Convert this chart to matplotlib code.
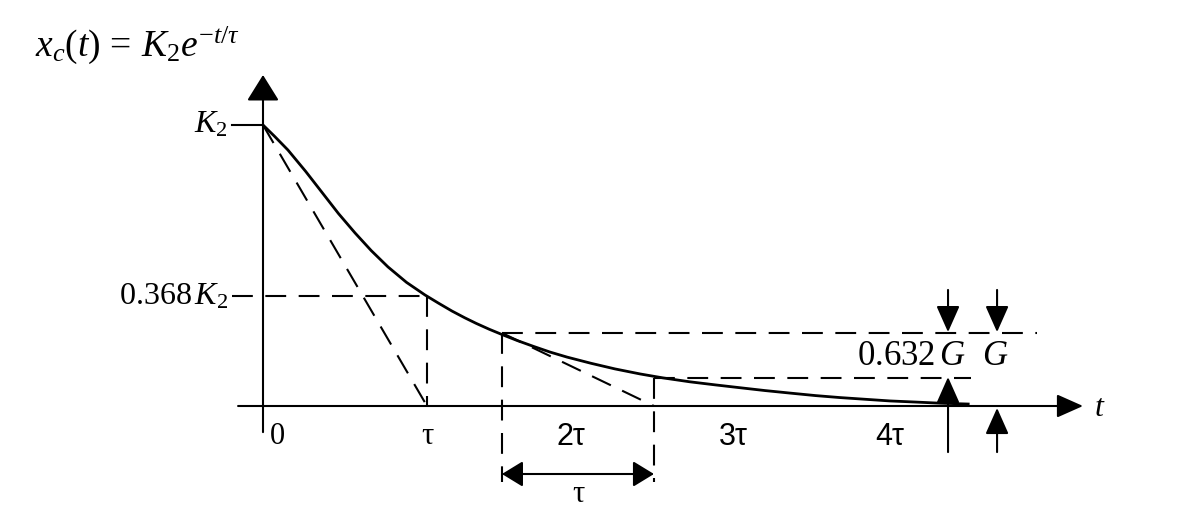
import matplotlib
matplotlib.use("Agg")
import matplotlib.pyplot as plt

plt.rcParams['font.family'] = ['Liberation Serif', 'DejaVu Serif']
plt.rcParams['mathtext.fontset'] = 'custom'
plt.rcParams['mathtext.rm'] = 'Liberation Serif'
plt.rcParams['mathtext.it'] = 'Liberation Serif:italic'

# curve (t in units of tau, x_c in units of K2)
curve_t = [0.0, 0.07, 0.152, 0.26, 0.36, 0.46, 0.561, 0.66, 0.762, 0.875, 0.988,
           1.07, 1.152, 1.23, 1.30, 1.38, 1.463, 1.55, 1.65, 1.75, 1.854, 2.0, 2.146,
           2.3, 2.439, 2.604, 2.76, 2.909, 3.06, 3.213, 3.37, 3.518, 3.67, 3.823,
           3.98, 4.128, 4.3]
curve_x = [1.0, 0.96, 0.911, 0.835, 0.76, 0.685, 0.616, 0.553, 0.495, 0.44, 0.395,
           0.366, 0.338, 0.314, 0.294, 0.273, 0.253, 0.233, 0.212, 0.192, 0.174, 0.152, 0.132,
           0.114, 0.100, 0.086, 0.075, 0.065, 0.055, 0.046, 0.037, 0.030, 0.024, 0.018,
           0.014, 0.010, 0.007]

tick_pos = [0.04, 1.0, 1.88, 2.87, 3.82]
tick_labels = ['0', 'τ', '2τ', '3τ', '4τ']

level_k2 = 1.0
level_368 = 0.39     # drawn height of 0.368 K2
t1, level_t1 = 1.457, 0.26    # start of the tau interval
t2, level_t2 = 2.384, 0.10    # end of the tau interval

fig = plt.figure(figsize=(11.79, 5.11), dpi=100)
ax = fig.add_axes([0, 0, 1, 1])
ax.set_xlim(-263 / 164, (1179 - 263) / 164)
ax.set_ylim((406 - 511) / 281, 406 / 281)
ax.axis('off')

lw = 1.5
dash = (0, (10, 6))
k = 'black'

# axes with arrow heads
ax.annotate('', xy=(5.0, 0), xytext=(-0.152, 0),
            arrowprops=dict(arrowstyle='-|>,head_length=0.9,head_width=0.4',
                            mutation_scale=18, lw=lw, color=k, shrinkA=0, shrinkB=0))
ax.annotate('', xy=(0, 1.178), xytext=(0, -0.093),
            arrowprops=dict(arrowstyle='-|>,head_length=0.9,head_width=0.56',
                            mutation_scale=18, lw=lw, color=k, shrinkA=0, shrinkB=0))

# K2 tick and 0.368 K2 level
ax.plot([-0.19, 0], [level_k2, level_k2], color=k, lw=lw)
ax.plot([-0.19, 1.0], [level_368, level_368], color=k, lw=lw, linestyle=dash)
ax.plot([1.0, 1.0], [level_368, 0], color=k, lw=lw, linestyle=dash)
ax.plot([0, 1.0], [level_k2, 0], color=k, lw=lw, linestyle=dash)

# response curve
ax.plot(curve_t, curve_x, color=k, lw=2.0, solid_joinstyle='round')

# tau interval construction
ax.plot([t1, 4.72], [level_t1, level_t1], color=k, lw=lw, linestyle=dash)
ax.plot([t2, 4.32], [level_t2, level_t2], color=k, lw=lw, linestyle=dash)
ax.plot([t1, t1], [level_t1, -0.27], color=k, lw=lw, linestyle=dash)
ax.plot([t2, t2], [level_t2, -0.27], color=k, lw=lw, linestyle=dash)
ax.plot([t1, t2], [level_t1, 0], color=k, lw=lw, linestyle=dash)
ax.annotate('', xy=(t1, -0.242), xytext=(t2, -0.242),
            arrowprops=dict(arrowstyle='<|-|>,head_length=0.72,head_width=0.44',
                            mutation_scale=18, lw=lw, color=k, shrinkA=0, shrinkB=0))
ax.text((t1 + t2) / 2, -0.315, 'τ', fontsize=22, ha='center', va='center')

# G markers
gx1, gx2 = 4.177, 4.476
for gx in (gx1, gx2):
    ax.annotate('', xy=(gx, level_t1 + 0.003), xytext=(gx, 0.413),
                arrowprops=dict(arrowstyle='-|>,head_length=0.9,head_width=0.4',
                                mutation_scale=18, lw=lw, color=k, shrinkA=0, shrinkB=0))
ax.annotate('', xy=(gx1, level_t2 + 0.003), xytext=(gx1, -0.164),
            arrowprops=dict(arrowstyle='-|>,head_length=0.9,head_width=0.4',
                            mutation_scale=18, lw=lw, color=k, shrinkA=0, shrinkB=0))
ax.annotate('', xy=(gx2, -0.007), xytext=(gx2, -0.164),
            arrowprops=dict(arrowstyle='-|>,head_length=0.9,head_width=0.4',
                            mutation_scale=18, lw=lw, color=k, shrinkA=0, shrinkB=0))
ax.text(4.285, 0.175, r'$0.632\,G$', fontsize=25, ha='right', va='center')
ax.text(4.463, 0.175, r'$G$', fontsize=25, ha='center', va='center')

# labels
ax.text(-0.215, level_k2, r'$K_2$', fontsize=23, ha='right', va='center')
ax.text(-0.215, level_368, r'$0.368\,K_2$', fontsize=23, ha='right', va='center')
for i, (p, lab) in enumerate(zip(tick_pos, tick_labels)):
    fam = ['Liberation Serif'] if i < 2 else ['Liberation Sans', 'DejaVu Sans']
    ax.text(p, -0.11, lab, fontsize=22, family=fam,
            ha='left' if i == 0 else 'center', va='center')
ax.text(5.07, -0.01, r'$t$', fontsize=23, ha='left', va='center')
ax.text(-1.39, 1.285, r'$x_c(t)\,=\,K_2 e^{-t/\tau}$', fontsize=27, ha='left', va='center')

fig.savefig('out.png', dpi=100, facecolor='white')
